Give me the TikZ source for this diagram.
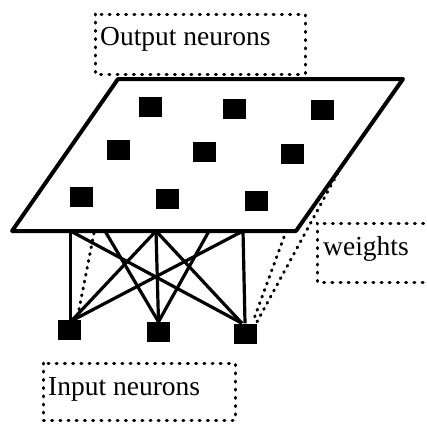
\documentclass[tikz,border=0pt]{standalone}
\usepackage{fontspec}
\setmainfont{Liberation Serif}
\begin{document}
\begin{tikzpicture}[x=1pt,y=1pt,
  sq/.style={fill=black,draw=none,minimum width=23pt,minimum height=20pt,inner sep=0pt},
  edge/.style={line width=4pt,line cap=round,line join=round},
  conn/.style={line width=3.2pt},
  dots/.style={line width=3pt,line cap=round,dash pattern=on 1pt off 6pt},
  boxdots/.style={line width=3pt,line cap=round,dash pattern=on 1pt off 7.2pt},
  lbl/.style={anchor=base west,inner sep=0pt,font=\fontsize{27.5}{30}\selectfont}]
\useasboundingbox (0,0) rectangle (427,-423);
% plane
\coordinate (pl) at (12,-231);
\coordinate (tl) at (118,-79);
\coordinate (tr) at (403,-79);
\coordinate (pr) at (296,-231);
\draw[edge] (pl) -- (tl) -- (tr) -- (pr) -- cycle;
% output neurons
\node[sq] (o1) at (150,-107) {};
\node[sq] (o2) at (234.5,-108.5) {};
\node[sq] (o3) at (322.5,-110) {};
\node[sq] (o4) at (118,-149.5) {};
\node[sq] (o5) at (204.5,-152) {};
\node[sq] (o6) at (292.5,-153.5) {};
\node[sq] (o7) at (81,-197) {};
\node[sq] (o8) at (167.5,-199) {};
\node[sq] (o9) at (256,-200.5) {};
% input neurons
\node[sq] (i1) at (69.5,-330) {};
\node[sq] (i2) at (158.5,-332) {};
\node[sq] (i3) at (245,-333.5) {};
% connection points on plane edge
\coordinate (a) at (70.5,-231);
\coordinate (b) at (105,-231);
\coordinate (c) at (156,-231);
\coordinate (d) at (209,-231);
\coordinate (e) at (243,-231);
\draw[conn] (a) -- ([xshift=1pt]i1.north);
\draw[conn] (c) -- ([xshift=3pt]i1.north);
\draw[conn] (e) -- ([xshift=4pt]i1.north);
\draw[conn] (b) -- (i2.north);
\draw[conn] (c) -- (i2.north);
\draw[conn] (d) -- (i2.north);
\draw[conn] (a) -- ([xshift=-3pt]i3.north);
\draw[conn] (c) -- ([xshift=-3pt]i3.north);
\draw[conn] (e) -- (i3.north);
% dotted weight lines
\coordinate (w1) at (94,-233);
\coordinate (w2) at (284,-237);
\coordinate (w3) at (341,-167);
\draw[dots] (w1) -- ([xshift=-4pt,yshift=1pt]i1.north east);
\draw[dots] (w2) -- ([xshift=-4pt,yshift=1pt]i3.north east);
\draw[dots] (w3) -- ([yshift=1pt]i3.north east);
% label boxes
\draw[boxdots] (95,-14) rectangle (305,-74);
\node[lbl] (tout) at (100,-45) {Output neurons};
\draw[boxdots] (440,-223) -- (317,-223) -- (317,-282) -- (440,-282);
\node[lbl] (tw) at (323,-255) {weights};
\draw[boxdots] (43,-363) rectangle (235,-420);
\node[lbl] (tin) at (48,-395) {Input neurons};
\end{tikzpicture}
\end{document}
